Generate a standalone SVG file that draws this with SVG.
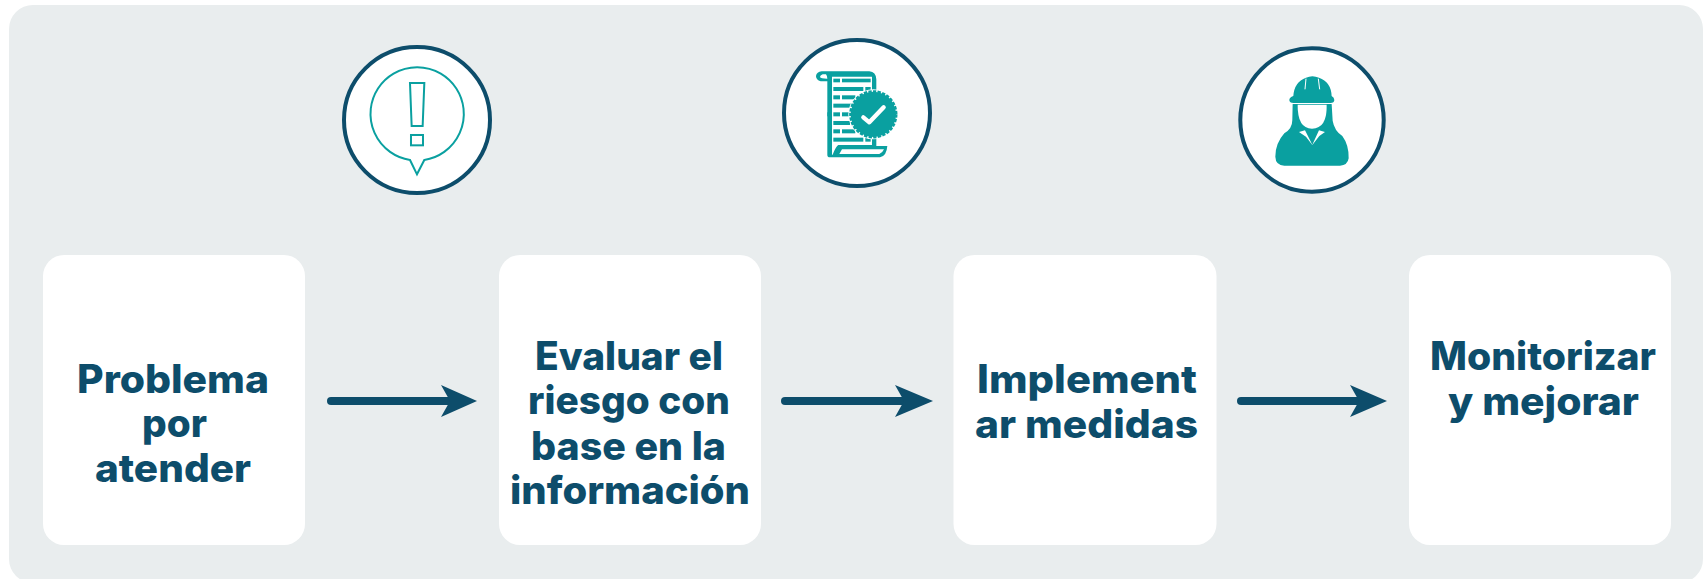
<svg xmlns="http://www.w3.org/2000/svg" width="1705" height="579" viewBox="0 0 1705 579">
<style>
.box{fill:#fff}
.t{font-family:Inter,"Liberation Sans",sans-serif;font-weight:800;font-size:39px;fill:#0d4d6b}
.ring{fill:#fff;stroke:#0d4d6b;stroke-width:4}
.teal{fill:#0aa0a0}
.o{fill:none;stroke:#0aa0a0;stroke-width:6}
.w{fill:#fff}
.sh{stroke:#0d4d6b;stroke-width:8;stroke-linecap:round;fill:none}
.hd{fill:#0d4d6b}
</style>
<rect width="1705" height="579" fill="#fff"/>
<rect id="panel" x="9" y="5" width="1694" height="578" rx="24" fill="#e9edee"/>
<g id="connectors">
<g><path class="sh" d="M331 401H452"/><path class="hd" d="M441 385L477 401L441 417L450 401Z"/></g>
<g><path class="sh" d="M785 401H906"/><path class="hd" d="M895 385L933 401L895 417L904 401Z"/></g>
<g><path class="sh" d="M1241 401H1360"/><path class="hd" d="M1350 385L1387 401L1350 417L1359 401Z"/></g>
</g>
<g id="node-problema">
<rect class="box" x="43" y="255" width="262" height="290" rx="21"/>
<text class="t" x="77" y="393" textLength="192" lengthAdjust="spacingAndGlyphs">Problema</text>
<text class="t" x="142" y="437" textLength="65" lengthAdjust="spacingAndGlyphs">por</text>
<text class="t" x="95" y="482" textLength="156" lengthAdjust="spacingAndGlyphs">atender</text>
</g>
<g id="node-evaluar">
<rect class="box" x="499" y="255" width="262" height="290" rx="21"/>
<text class="t" x="535" y="370" textLength="188" lengthAdjust="spacingAndGlyphs">Evaluar el</text>
<text class="t" x="528" y="414" textLength="202" lengthAdjust="spacingAndGlyphs">riesgo con</text>
<text class="t" x="531" y="460" textLength="195" lengthAdjust="spacingAndGlyphs">base en la</text>
<text class="t" x="510" y="504" textLength="240" lengthAdjust="spacingAndGlyphs">información</text>
</g>
<g id="node-implementar">
<rect class="box" x="953.500" y="255" width="263" height="290" rx="21"/>
<text class="t" x="977" y="393" textLength="220" lengthAdjust="spacingAndGlyphs">Implement</text>
<text class="t" x="975" y="438" textLength="223" lengthAdjust="spacingAndGlyphs">ar medidas</text>
</g>
<g id="node-monitorizar">
<rect class="box" x="1409" y="255" width="262" height="290" rx="21"/>
<text class="t" x="1430" y="370" textLength="226" lengthAdjust="spacingAndGlyphs">Monitorizar</text>
<text class="t" x="1448" y="415" textLength="191" lengthAdjust="spacingAndGlyphs">y mejorar</text>
</g>
<g id="icon-alert">
<circle class="ring" cx="417" cy="120" r="73"/>
<g transform="translate(320 20) scale(.3333)">
<path class="o" d="M270 420A140 140 0 1 1 313 420L291 463Z"/>
<path class="o" d="M270 189H313L308 318H275Z"/>
<rect class="o" x="273" y="345" width="36" height="31"/>
</g>
</g>
<g id="icon-document">
<circle class="ring" cx="857" cy="113" r="73"/>
<g transform="translate(770 20) scale(.3333)">
<path class="teal" d="M155 154H298Q318 156 319 178V378H352Q350 408 330 412H180Q172 412 172 404V184H152Q138 180 138 168Q140 156 155 154Z"/>
<path class="w" d="M158 163Q150 166 150 171Q152 176 172 176Q172 168 168 163Z"/>
<path class="w" d="M186 170H306V375H205Q198 378 188 404H186Z"/>
<path class="w" d="M216 388H342Q338 398 328 402H208Z"/>
<g class="teal">
<rect x="190" y="176" width="20" height="11"/><rect x="216" y="176" width="86" height="11"/>
<rect x="190" y="201" width="90" height="12"/><rect x="286" y="201" width="16" height="12"/>
<rect x="190" y="226" width="20" height="12"/><rect x="216" y="226" width="40" height="12"/>
<rect x="190" y="251" width="56" height="12"/>
<rect x="172" y="277" width="12" height="12"/><rect x="190" y="277" width="20" height="12"/><rect x="216" y="277" width="24" height="12"/>
<rect x="190" y="303" width="50" height="12"/>
<rect x="190" y="328" width="20" height="12"/><rect x="216" y="328" width="40" height="12"/>
<rect x="190" y="353" width="90" height="12"/><rect x="286" y="353" width="16" height="12"/>
</g>
<circle class="w" cx="310" cy="283" r="75"/>
<circle cx="310" cy="283" r="69" fill="none" stroke="#0aa0a0" stroke-width="7" stroke-dasharray="10 4"/>
<circle class="teal" cx="310" cy="283" r="68"/>
<path d="M280 292L298 307L341 262" fill="none" stroke="#fff" stroke-width="13" stroke-linecap="round" stroke-linejoin="round"/>
</g>
</g>
<g id="icon-worker">
<circle class="ring" cx="1312" cy="120" r="71.700"/>
<g transform="translate(1225 30) scale(.3333)">
<path class="teal" d="M205 198Q208 155 243 143Q262 134 282 143Q318 155 320 198Q328 202 328 210Q328 219 316 219H206Q193 219 193 210Q193 202 205 198Z"/>
<path d="M243 146L240 178M280 146L284 178" stroke="#fff" stroke-width="3" fill="none"/>
<path class="teal" d="M203 222H320L323 272Q328 302 352 318Q372 345 371 385Q368 406 345 407H178Q152 406 151 380Q151 340 178 310Q202 296 202 270Z"/>
<path class="w" d="M218 224H305Q307 295 261 296Q217 295 218 224Z"/>
<path class="w" d="M222 306L240 301L262 344L282 301L300 306L283 318L262 345L243 320Z"/>
</g>
</g>
</svg>
